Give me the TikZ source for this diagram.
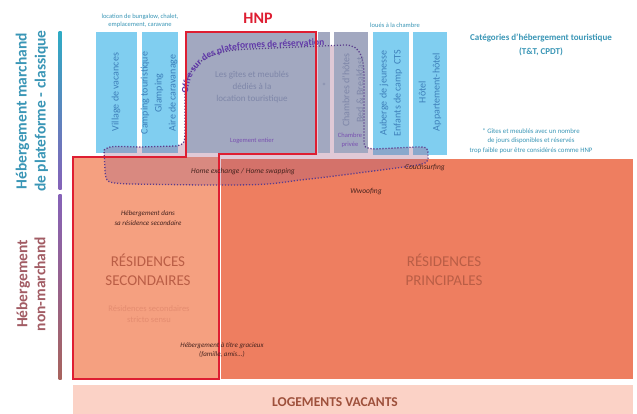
\documentclass[tikz,border=0pt]{standalone}
\usepackage{fontspec}
\setmainfont{Carlito}
\usetikzlibrary{positioning,calc,decorations.text}

\definecolor{skyblue}{RGB}{128,206,240}
\definecolor{hnpgray}{RGB}{162,168,192}
\definecolor{secorange}{RGB}{245,160,128}
\definecolor{prinorange}{RGB}{238,126,96}
\definecolor{vacpink}{RGB}{251,210,198}
\definecolor{hnpred}{RGB}{222,30,50}
\definecolor{tealtxt}{RGB}{58,150,182}
\definecolor{bluetxt}{RGB}{62,128,186}
\definecolor{graytxt}{RGB}{126,134,168}
\definecolor{purpletxt}{RGB}{120,80,176}
\definecolor{offretxt}{RGB}{96,56,168}
\definecolor{blobpurple}{RGB}{160,90,130}
\definecolor{dotpurple}{RGB}{90,60,140}
\definecolor{restxt}{RGB}{186,94,70}
\definecolor{paletxt}{RGB}{228,140,112}
\definecolor{darktxt}{RGB}{70,35,30}
\definecolor{nmtxt}{RGB}{162,92,100}

\newcommand{\fsz}[2]{\fontsize{#1}{#2}\selectfont}
% outline of the platform offer
\def\blobpath{(104,150) .. controls (110,146) .. (140,147) -- (176,146)
  .. controls (185,144) .. (185,125) -- (185,92)
  .. controls (187,62) and (210,50) .. (250,49) -- (345,45)
  .. controls (362,45) and (364,60) .. (364,80) -- (364,138)
  .. controls (364,148) .. (375,149) -- (415,147)
  .. controls (428,147) .. (428,156) .. controls (428,163) .. (412,166)
  .. controls (380,170) and (330,177) .. (300,180)
  .. controls (265,185) .. (200,185) -- (130,184)
  .. controls (106,183) .. (105,170) -- cycle}

\tikzset{
  coltext/.style={rotate=90, align=center, font=\fsz{10}{14}},
  note/.style={align=center, font=\fsz{6.5}{8.5}, text=tealtxt},
  usage/.style={align=center, font=\fsz{7.5}{10}\itshape, text=darktxt},
  restitle/.style={align=center, font=\fsz{15}{19}, text=restxt},
}

\begin{document}
\begin{tikzpicture}[x=1pt, y=-1pt]
    \useasboundingbox (0,0) rectangle (637,414);
    \fill[white] (0,0) rectangle (637,414);

    % housing stock
    \fill[secorange] (73,157) rectangle (218,379);
    \fill[prinorange] (221,159) rectangle (633,379);
    \fill[vacpink] (73,385) rectangle (633,414);

    % tourist accommodation columns
    \fill[skyblue] (96,32) rectangle (137,153);
    \fill[skyblue] (142,32) rectangle (178,153);
    \fill[skyblue] (373,32) rectangle (409,155);
    \fill[skyblue] (413,32) rectangle (447,155);

    \fill[blobpurple, opacity=0.32] \blobpath;

    \fill[hnpgray] (187,32) rectangle (316,153);
    \fill[hnpgray] (318,32) rectangle (330,153);
    \fill[hnpgray] (334,32) rectangle (368,153);

    \draw[dotpurple, line width=1.3pt, dash pattern=on 1.2pt off 1.8pt] \blobpath;

    \path[decorate, decoration={text along path, text color=offretxt,
      text={|\fsz{9.5}{11}\bfseries|Offre sur des plateformes de réservation}}]
      (188,94) .. controls (190,64) and (212,50) .. (252,48) -- (420,42);

    % HNP frame
    \draw[hnpred, line width=2.2pt] (186,32) -- (316,32) -- (316,154) -- (219,154)
      -- (219,379) -- (73,379) -- (73,157) -- (186,157) -- cycle;
    \node[text=hnpred, font=\fsz{16}{18}\bfseries] (hnp) at (258,18) {HNP};

    % side bars
    \shade[top color=tealtxt!80!cyan, bottom color=purpletxt!90!white] (58.5,32) rectangle (61.5,190);
    \shade[top color=purpletxt!90!white, bottom color=nmtxt!80!brown] (58.5,195) rectangle (61.5,379);

    \node[rotate=90, align=center, text=tealtxt, font=\fsz{15.5}{19}\bfseries] (marchand) at (32,111)
      {Hébergement marchand\\de plateforme - classique};
    \node[rotate=90, align=center, text=nmtxt, font=\fsz{15.5}{18}\bfseries] (nonmarchand) at (31,284)
      {Hébergement\\non-marchand};

    % column labels
    \node[note] (bungalow) at (140,21) {location de bungalow, chalet,\\emplacement, caravane};
    \node[note] (chambre) at (395,25) {loués à la chambre};
    \node[coltext, text=bluetxt] (village) at (116,92) {Village de vacances};
    \node[coltext, text=bluetxt] (camping) at (159,93) {Camping touristique\\Glamping\\Aire de caravanage};
    \node[align=center, text=graytxt, font=\fsz{9}{12}] (gites) at (252,87)
      {Les gîtes et meublés\\dédiés à la\\location touristique};
    \node[text=purpletxt, font=\fsz{6.5}{8}] (entier) at (252,141) {Logement entier};
    \node[text=graytxt, font=\fsz{9}{10}] (star) at (324,86) {*};
    \node[coltext, text=graytxt] (hotes) at (353,90) {Chambres d'hôtes\\Bed \& Breakfast};
    \node[align=center, text=purpletxt, font=\fsz{6.5}{9}] (privee) at (350,140) {Chambre\\privée};
    \node[coltext, text=bluetxt] (auberge) at (391,93) {Auberge de jeunesse\\Enfants de camp\ \ CTS};
    \node[coltext, text=bluetxt] (hotel) at (430,92) {Hôtel\\Appartement-hôtel};

    \node[align=center, text=tealtxt, font=\fsz{9}{14}\bfseries] (categories) at (541,45)
      {Catégories d'hébergement touristique\\(T\&T, CPDT)};
    \node[note, font=\fsz{6.8}{9.5}] (footnote) at (531,141)
      {* Gîtes et meublés avec un nombre\\de jours disponibles et réservés\\trop faible pour être considérés comme HNP};

    % non-market uses
    \node[usage] (exchange) at (243,172) {Home exchange / Home swapping};
    \node[usage] (couch) at (425,168) {Couchsurfing};
    \node[usage] (wwoof) at (366,192) {Wwoofing};
    \node[usage, font=\fsz{7}{10}\itshape] (danssa) at (148,218) {Hébergement dans\\sa résidence secondaire};
    \node[restitle] (secondaires) at (148,270) {RÉSIDENCES\\SECONDAIRES};
    \node[align=center, text=paletxt, font=\fsz{8.5}{11}] (stricto) at (149,314)
      {Résidences secondaires\\stricto sensu};
    \node[usage, font=\fsz{7}{9.5}\itshape] (gracieux) at (222,350)
      {Hébergement à titre gracieux\\(famille, amis...)};
    \node[restitle] (principales) at (444,270) {RÉSIDENCES\\PRINCIPALES};
    \node[text=restxt!85!black, font=\fsz{13.5}{16}\bfseries] (vacants) at (335,402) {LOGEMENTS VACANTS};
\end{tikzpicture}
\end{document}
